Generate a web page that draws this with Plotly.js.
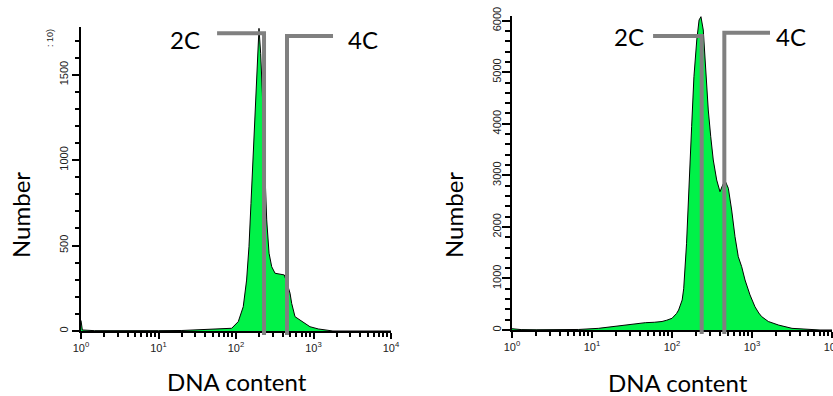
<!DOCTYPE html>
<html><head><meta charset="utf-8">
<script src="https://cdn.plot.ly/plotly-3.0.1.min.js"></script>
<style>html,body{margin:0;padding:0;background:#fff;overflow:hidden}#chart{width:833px;height:396px}</style>
</head><body><div id="chart"></div>
<script>
// ---- data ----
const leftDNA   = [1, 1.04, 1.5, 3, 6, 10, 20, 34, 50, 72, 88, 107, 124, 137, 147, 156, 167, 180, 188, 198, 208, 219, 233, 249, 267, 289, 319, 370, 420, 455, 498, 523, 577, 670, 777, 901, 1153, 1407, 1780, 10000];
const leftCount = [62, 6, 2, 1, 1, 2, 3, 8, 11, 15, 16, 55, 142, 298, 493, 747, 1040, 1333, 1586, 1771, 1625, 1391, 1000, 650, 455, 376, 338, 334, 328, 280, 221, 162, 84, 64, 45, 25, 12, 5, 0, 0];

const rightDNA   = [1, 1.3, 2, 4, 6.8, 12, 17.8, 28.7, 46.4, 60, 75, 86, 100, 114, 121, 134, 140, 152, 164, 176, 188, 204, 218, 230, 246, 266, 284, 305, 328, 362, 398, 430, 460, 506, 557, 613, 674, 743, 818, 944, 1090, 1215, 1321, 1599, 2157, 3162, 4637, 7079, 10000];
const rightCount = [25, 8, 5, 5, 10, 32, 64, 110, 142, 150, 165, 190, 227, 320, 388, 582, 800, 1682, 2974, 3944, 4914, 5626, 6014, 6078, 5820, 4914, 4268, 3750, 3298, 2910, 2683, 2813, 2900, 2750, 2328, 1810, 1422, 1228, 970, 680, 450, 330, 260, 165, 95, 32, 13, 0, 0];

const decadeTicks  = [1, 10, 100, 1000, 10000];
const decadeLabels = ['10<sup>0</sup>', '10<sup>1</sup>', '10<sup>2</sup>', '10<sup>3</sup>', '10<sup>4</sup>'];
const gateNames = ['2C', '4C'];

// gates: vertical position (DNA), level of horizontal arm (count), arm end (DNA)
const leftGateX      = [230, 455];
const leftGateLevel  = [1743, 1727];
const leftGateArmEnd = [57, 1786];
const rightGateX      = [235, 451];
const rightGateLevel  = [5703, 5767];
const rightGateArmEnd = [58, 1679];

// ---- layout geometry ----
const W = 833, H = 396;
const xDomL = [81 / W, 391 / W], yDomL = [1 - 331 / H, 1 - 27 / H], yRangeL = [0, 1779];
const xDomR = [512 / W, 832 / W], yDomR = [1 - 330 / H, 1 - 15.7 / H], yRangeR = [0, 6097];

function minorDecades() {
  const v = [];
  for (let p = 0; p < 4; p++) for (let d = 2; d <= 9; d++) v.push(d * Math.pow(10, p));
  return v;
}
const green = 'rgb(0,242,72)';
const tickFont = {family: 'Liberation Sans, Arial, sans-serif', size: 11, color: '#222'};
const titleFont = {family: 'Lato, Open Sans, sans-serif', size: 24, color: '#000'};

function xAxis(dom, anchor) {
  return {
    domain: dom, anchor: anchor, type: 'log', range: [0, 4],
    tickmode: 'array', tickvals: decadeTicks, ticktext: decadeLabels,
    ticks: 'outside', ticklen: 6, tickwidth: 2, tickcolor: '#000',
    minor: {tickmode: 'array', tickvals: minorDecades(), ticks: 'outside', ticklen: 4, tickwidth: 2, tickcolor: '#000'},
    showline: true, linecolor: '#000', linewidth: 1.6, showgrid: false, zeroline: false,
    tickfont: tickFont, ticklabeloverflow: 'allow', fixedrange: true
  };
}
function yAxis(dom, anchor, range, dtick, minorDtick, standoff, tlen, mlen) {
  return {
    domain: dom, anchor: anchor, range: range, tickmode: 'linear', tick0: 0, dtick: dtick,
    ticks: 'outside', ticklen: tlen, tickwidth: 2, tickcolor: '#000',
    minor: {dtick: minorDtick, ticks: 'outside', ticklen: mlen, tickwidth: 2, tickcolor: '#000'},
    showline: true, linecolor: '#000', linewidth: 1.6, showgrid: false, zeroline: false,
    tickangle: -90, tickfont: tickFont, ticklabelstandoff: standoff, fixedrange: true
  };
}

const traces = [
  {x: leftDNA, y: leftCount, xaxis: 'x', yaxis: 'y', type: 'scatter', mode: 'lines',
   fill: 'tozeroy', fillcolor: green, line: {color: '#000', width: 1}, hoverinfo: 'skip'},
  {x: rightDNA, y: rightCount, xaxis: 'x2', yaxis: 'y2', type: 'scatter', mode: 'lines',
   fill: 'tozeroy', fillcolor: green, line: {color: '#000', width: 1}, hoverinfo: 'skip'}
];

function toPaperY(v, dom, range) {
  return dom[0] + (v - range[0]) / (range[1] - range[0]) * (dom[1] - dom[0]);
}
function gateShapes(xref, gx, level, armEnd, dom, range) {
  const out = [];
  const bottom = dom[0] - 4 / H;
  for (let i = 0; i < gx.length; i++) {
    const top = toPaperY(level[i], dom, range);
    out.push({type: 'path', xref: xref, yref: 'paper', layer: 'above',
      path: 'M' + armEnd[i] + ',' + top + ' L' + gx[i] + ',' + top + ' L' + gx[i] + ',' + bottom,
      line: {color: 'rgb(128,128,128)', width: 4}});
  }
  return out;
}
const shapes = [].concat(
  gateShapes('x', leftGateX, leftGateLevel, leftGateArmEnd, yDomL, yRangeL),
  gateShapes('x2', rightGateX, rightGateLevel, rightGateArmEnd, yDomR, yRangeR)
);

function ann(text, px, py, font, angle) {
  return {text: text, x: px / W, y: 1 - py / H, xref: 'paper', yref: 'paper',
          xanchor: 'center', yanchor: 'middle', showarrow: false, font: font, textangle: angle || 0};
}
const annotations = [
  ann('Number', 20, 215, titleFont, -90),
  ann('DNA content', 237, 381, titleFont),
  ann('Number', 453, 215, titleFont, -90),
  ann('DNA content', 678, 382, titleFont),
  ann(gateNames[0], 185, 40, titleFont),
  ann(gateNames[1], 363, 40, titleFont),
  ann(gateNames[0], 629, 36, titleFont),
  ann(gateNames[1], 791, 36, titleFont),
  ann(': 10)', 50, 38, {family: 'Liberation Sans, Arial, sans-serif', size: 9, color: '#222'}, -90)
];

const layout = {
  width: W, height: H, margin: {l: 0, r: 0, t: 0, b: 0},
  paper_bgcolor: '#fff', plot_bgcolor: '#fff', showlegend: false,
  xaxis: xAxis(xDomL, 'y'),
  yaxis: yAxis(yDomL, 'x', yRangeL, 500, 100, 0, 7, 4),
  xaxis2: xAxis(xDomR, 'y2'),
  yaxis2: yAxis(yDomR, 'x2', yRangeR, 1000, 200, -3, 8, 5),
  shapes: shapes, annotations: annotations
};
Plotly.newPlot('chart', traces, layout, {displayModeBar: false, staticPlot: true});
</script></body></html>
